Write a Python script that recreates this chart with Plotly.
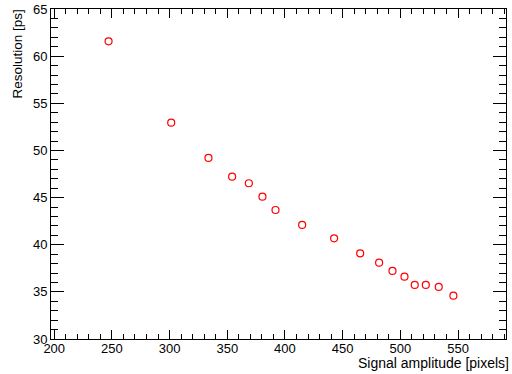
import plotly.graph_objects as go

amplitude = [247.1, 301.4, 333.7, 354.2, 368.7, 380.5, 391.8, 414.9, 442.6,
             465.2, 481.6, 493.2, 503.6, 512.5, 522.1, 533.3, 546.0]
resolution = [61.57, 52.94, 49.2, 47.22, 46.52, 45.1, 43.68, 42.1, 40.68,
              39.09, 38.1, 37.22, 36.61, 35.73, 35.73, 35.52, 34.6]

x_title = "Signal amplitude [pixels]"
y_title = "Resolution [ps]"

fig = go.Figure()
fig.add_trace(go.Scatter(
    x=amplitude, y=resolution, mode="markers",
    marker=dict(symbol="circle-open", size=7, color="red", line=dict(width=1.2, color="red")),
    showlegend=False,
))

font = dict(family="Liberation Sans, Arial, sans-serif", size=13, color="black")
W, H = 512, 374
L, R, T, B = 51, 6, 9, 35

axis_common = dict(
    showline=True, linecolor="black", linewidth=1, mirror="ticks",
    ticks="inside", tickcolor="black", tickwidth=1,
    showgrid=False, zeroline=False, tickfont=font, automargin=False,
)

fig.update_xaxes(
    range=[197.2, 591.6], tick0=200, dtick=50, ticklen=9,
    minor=dict(ticks="inside", ticklen=5, dtick=10, tickcolor="black", tickwidth=1, showgrid=False),
    ticklabelstandoff=-3,
    **axis_common,
)
fig.update_yaxes(
    range=[30, 65], tick0=30, dtick=5, ticklen=13,
    minor=dict(ticks="inside", ticklen=7, dtick=1, tickcolor="black", tickwidth=1, showgrid=False),
    **axis_common,
)

fig.add_annotation(
    text=x_title, xref="paper", yref="paper",
    x=1 + (R - 1) / (W - L - R), y=-(363 - (H - B)) / (H - T - B),
    xanchor="right", yanchor="middle", showarrow=False,
    font=dict(family=font["family"], size=14, color="black"),
)
fig.add_annotation(
    text=y_title, xref="paper", yref="paper",
    x=-(L - 17) / (W - L - R), y=1 + (T - 8) / (H - T - B),
    xanchor="center", yanchor="top", textangle=-90, showarrow=False,
    font=dict(family=font["family"], size=13.5, color="black"),
)

fig.update_layout(
    template="none",
    width=W, height=H,
    margin=dict(l=L, r=R, t=T, b=B, autoexpand=False),
    paper_bgcolor="white", plot_bgcolor="white",
    font=font,
)

fig.write_html(
    "out.html",
    config={"displayModeBar": False},
    post_script="document.body.style.margin='0';document.body.style.padding='0';document.body.style.overflow='hidden';",
)
